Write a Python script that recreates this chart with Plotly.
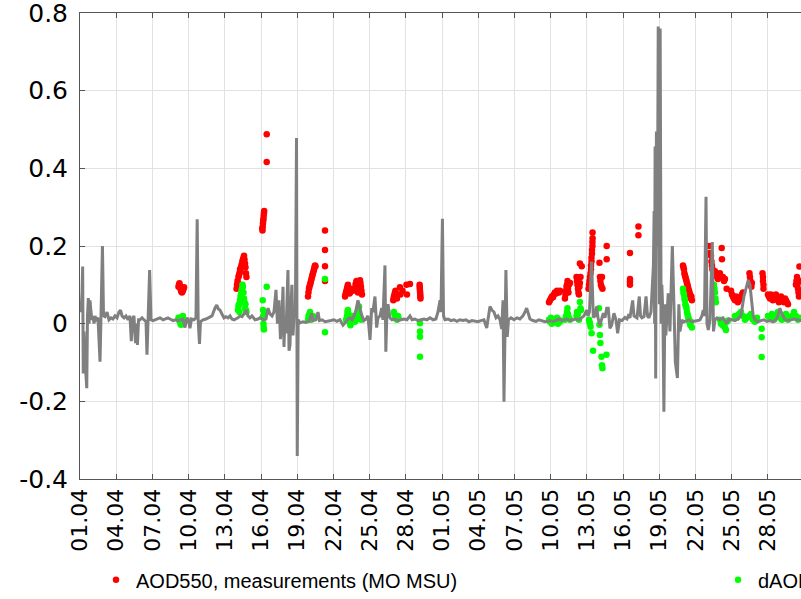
import pandas as pd
import plotly.graph_objects as go

# Period start; all times below are given in days since 01.04 00:00
START = pd.Timestamp("2021-04-01")

# Model dAOD550 (grey line)
grey_day = [
    0.00, 0.08, 0.17, 0.22, 0.27, 0.33, 0.41, 0.56, 0.62, 0.69, 0.75, 0.83, 0.91, 0.99,
    1.08, 1.16, 1.24, 1.33, 1.49, 1.66, 1.74, 1.86, 1.95, 2.07, 2.24, 2.40, 2.57, 2.73,
    2.90, 3.07, 3.23, 3.36, 3.48, 3.65, 3.81, 3.98, 4.14, 4.25, 4.35, 4.47, 4.60, 4.68,
    4.76, 4.85, 4.97, 5.14, 5.30, 5.47, 5.55, 5.63, 5.77, 5.88, 6.05, 6.21, 6.38, 6.63,
    6.88, 7.04, 7.29, 7.46, 7.71, 7.95, 8.12, 8.37, 8.53, 8.70, 8.82, 8.95, 9.11, 9.24,
    9.44, 9.61, 9.71, 9.79, 9.90, 9.98, 10.19, 10.44, 10.69, 10.94, 11.18, 11.33, 11.46,
    11.60, 11.76, 11.93, 12.10, 12.26, 12.43, 12.59, 12.76, 12.92, 13.09, 13.26, 13.42,
    13.59, 13.79, 13.92, 14.08, 14.25, 14.50, 14.75, 14.91, 15.16, 15.41, 15.58, 15.74,
    15.91, 16.07, 16.24, 16.36, 16.49, 16.61, 16.74, 16.82, 16.90, 16.98, 17.07, 17.15,
    17.23, 17.32, 17.40, 17.48, 17.56, 17.65, 17.73, 17.85, 17.94, 18.00, 18.08, 18.23,
    18.48, 18.72, 18.97, 19.20, 19.30, 19.55, 19.72, 19.84, 20.05, 20.30, 20.55, 20.80,
    21.04, 21.29, 21.54, 21.79, 22.04, 22.20, 22.37, 22.54, 22.70, 22.87, 23.03, 23.20,
    23.36, 23.53, 23.70, 23.86, 24.03, 24.17, 24.27, 24.44, 24.58, 24.69, 24.86, 25.00,
    25.10, 25.27, 25.34, 25.43, 25.52, 25.68, 25.85, 26.10, 26.35, 26.59, 26.84, 27.09,
    27.34, 27.51, 27.75, 28.00, 28.25, 28.50, 28.75, 29.00, 29.25, 29.49, 29.66, 29.83,
    29.91, 30.03, 30.12, 30.24, 30.49, 30.74, 30.99, 31.23, 31.48, 31.73, 31.98, 32.23,
    32.48, 32.73, 32.97, 33.22, 33.47, 33.70, 33.84, 33.97, 34.13, 34.30, 34.47, 34.63,
    34.80, 34.94, 35.05, 35.13, 35.29, 35.40, 35.50, 35.71, 35.96, 36.21, 36.45, 36.70,
    36.87, 37.01, 37.16, 37.28, 37.53, 37.78, 38.03, 38.28, 38.53, 38.77, 38.94, 39.19,
    39.44, 39.69, 39.93, 40.10, 40.35, 40.60, 40.85, 41.09, 41.34, 41.59, 41.76, 41.98,
    42.09, 42.21, 42.39, 42.53, 42.67, 42.81, 42.92, 43.08, 43.21, 43.36, 43.50, 43.64,
    43.77, 43.91, 44.05, 44.16, 44.24, 44.41, 44.55, 44.70, 44.91, 45.15, 45.32, 45.43,
    45.57, 45.79, 45.90, 46.15, 46.34, 46.44, 46.56, 46.73, 46.90, 47.02, 47.14, 47.31,
    47.43, 47.51, 47.57, 47.61, 47.65, 47.70, 47.76, 47.84, 47.91, 48.01, 48.07, 48.15,
    48.21, 48.30, 48.38, 48.46, 48.54, 48.74, 48.88, 49.08, 49.21, 49.33, 49.50, 49.62,
    49.71, 49.88, 49.98, 50.21, 50.46, 50.70, 50.95, 51.20, 51.37, 51.53, 51.64, 51.74,
    51.87, 51.95, 52.06, 52.20, 52.39, 52.49, 52.61, 52.78, 53.02, 53.27, 53.58, 53.77,
    54.02, 54.27, 54.51, 54.76, 55.01, 55.18, 55.37, 55.51, 55.63, 55.78, 55.92, 56.17,
    56.42, 56.67, 56.92, 57.17, 57.41, 57.66, 57.83, 57.99, 58.16, 58.41, 58.66, 58.91,
    59.16, 59.41, 59.74, 60.20,
]
grey_val = [
    0.048, 0.030, 0.080, 0.147, -0.128, -0.020, -0.090, -0.166, 0.020, 0.066, 0.000, 0.060, 0.030, 0.010,
    0.020, 0.000, 0.020, 0.010, 0.015, -0.098, 0.020, 0.200, 0.020, 0.018, 0.030, 0.010, 0.015, 0.012,
    0.020, 0.015, 0.030, 0.035, 0.020, 0.015, 0.020, 0.010, 0.020, -0.045, 0.010, 0.020, -0.050, 0.000,
    -0.055, 0.010, 0.010, 0.015, 0.010, 0.005, -0.080, 0.010, 0.138, 0.010, 0.008, 0.010, 0.012, 0.015,
    0.010, 0.012, 0.015, 0.012, 0.008, 0.010, 0.008, 0.010, 0.012, -0.010, 0.010, 0.015, -0.012, 0.012,
    0.010, 0.015, 0.269, 0.010, -0.052, 0.005, 0.010, 0.012, 0.015, 0.020, 0.040, 0.048, 0.038,
    0.035, 0.025, 0.015, 0.018, 0.015, 0.020, 0.012, 0.010, 0.012, 0.015, 0.020, 0.018,
    0.025, 0.035, 0.020, 0.015, 0.020, 0.010, 0.012, 0.015, 0.010, 0.012, 0.040, 0.025,
    0.020, 0.030, 0.087, 0.000, 0.060, -0.040, 0.020, 0.095, -0.060, 0.010, -0.025, 0.060,
    0.138, -0.070, -0.055, 0.050, 0.100, -0.030, 0.020, 0.040, 0.478, -0.341, 0.010, 0.002,
    0.005, 0.003, 0.006, 0.027, 0.008, 0.010, 0.030, 0.008, 0.010, 0.005, 0.006, 0.008,
    0.010, 0.006, 0.010, -0.004, 0.005, 0.012, 0.015, 0.010, 0.020, 0.035, 0.060, 0.040,
    0.020, 0.008, 0.012, 0.020, -0.042, 0.040, 0.030, 0.070, -0.010, 0.015, 0.020, 0.040,
    0.010, 0.150, -0.072, 0.030, 0.050, 0.015, 0.010, 0.012, 0.008, 0.010, 0.012, 0.010,
    0.020, 0.010, 0.012, 0.008, 0.010, 0.012, 0.010, 0.015, 0.010, 0.012, 0.030, 0.060,
    0.030, 0.270, 0.020, 0.010, 0.012, 0.008, 0.010, 0.006, 0.010, 0.008, 0.010, 0.005,
    0.008, 0.006, 0.005, 0.008, 0.010, -0.011, 0.020, 0.044, 0.035, 0.030, 0.015, 0.020,
    0.010, -0.014, 0.060, -0.201, 0.138, -0.034, 0.010, 0.015, 0.010, 0.015, 0.012, 0.020,
    0.030, 0.040, 0.025, 0.012, 0.008, 0.006, 0.010, 0.008, 0.005, 0.006, 0.008, 0.005,
    0.008, 0.012, 0.008, 0.010, 0.012, 0.008, 0.010, 0.012, 0.010, 0.015, 0.020, 0.035,
    0.020, 0.030, 0.160, 0.016, 0.020, 0.044, 0.015, -0.004, 0.010, 0.027, 0.015, 0.040,
    0.040, -0.012, -0.004, 0.010, 0.027, 0.010, -0.025, 0.010, 0.008, 0.016, 0.012, 0.020,
    0.015, 0.060, 0.020, 0.015, 0.070, 0.020, 0.015, 0.018, 0.070, 0.020, 0.015, 0.030,
    0.100, 0.150, 0.290, 0.000, 0.456, -0.141, 0.495, 0.200, 0.765, 0.050, 0.760, 0.000,
    0.100, 0.020, -0.227, 0.050, -0.030, 0.078, -0.020, 0.200, 0.050, -0.100, -0.140, 0.050,
    -0.020, 0.010, 0.004, 0.006, 0.010, 0.005, 0.006, 0.008, 0.010, 0.020, 0.035, 0.020,
    0.327, 0.000, -0.016, 0.010, 0.210, -0.020, 0.010, 0.015, 0.010, 0.015, 0.000, 0.012,
    0.010, 0.008, 0.012, 0.020, 0.070, 0.090, 0.112, 0.100, 0.070, 0.020, 0.010, 0.005,
    0.008, 0.010, 0.006, 0.008, 0.005, 0.010, 0.020, 0.040, 0.025, 0.010, 0.008, 0.010,
    0.012, 0.010, 0.008, 0.008,
]

# AOD550 measurements (red dots)
red_day = [
    8.16, 8.20, 8.24, 8.29, 8.33, 8.37, 8.41, 8.45, 8.53, 8.58, 8.62,
    12.97, 13.01, 13.05, 13.09, 13.13, 13.17, 13.21, 13.26, 13.30, 13.34, 13.38, 13.42,
    13.46, 13.50, 13.55, 13.59, 13.63, 13.67, 13.71, 13.75, 13.79,
    15.10, 15.12, 15.14, 15.16, 15.18, 15.20, 15.22, 15.24, 15.26, 15.47, 15.47,
    18.89, 18.93, 18.97, 19.01, 19.06, 19.10, 19.14, 19.18, 19.22, 19.26, 19.30, 19.35,
    19.39, 19.43, 19.47, 19.51, 20.30, 20.30, 20.30, 20.30,
    21.96, 22.00, 22.04, 22.08, 22.12, 22.16, 22.20, 22.25, 22.29, 22.33, 22.37, 22.41,
    22.45, 22.54, 22.62, 22.78, 22.83, 22.87, 22.91, 22.95, 22.99, 23.03, 23.07, 23.12,
    23.16, 23.20, 23.24, 23.28, 23.32, 23.36,
    25.96, 25.99, 26.01, 26.06, 26.10, 26.14, 26.18, 26.22, 26.26, 26.51, 26.55, 26.72,
    27.05, 27.09, 27.34, 28.14, 28.15, 28.16, 28.17, 28.18, 28.19, 28.20, 28.21,
    38.86, 38.94, 39.02, 39.10, 39.19, 39.27, 39.35, 39.44, 39.52, 39.60, 39.69, 39.77,
    40.18, 40.22, 40.27, 40.31, 40.35, 40.39, 40.43, 40.47, 40.51, 40.60,
    41.14, 41.18, 41.22, 41.26, 41.30, 41.34, 41.38, 41.42, 41.47, 41.57, 41.42,
    42.13, 42.17, 42.21, 42.25, 42.30, 42.34, 42.34, 42.38, 42.38, 42.42, 42.42, 42.46,
    42.46, 42.47, 42.47,
    43.04, 43.08, 43.12, 43.16, 43.21, 43.25, 43.29, 43.64, 43.64,
    45.57, 45.57, 45.57, 45.57, 46.27, 46.27,
    49.96, 50.00, 50.04, 50.08, 50.12, 50.16, 50.21, 50.25, 50.29, 50.33, 50.37, 50.41,
    50.46, 50.50, 50.54, 50.58, 50.62, 50.66, 50.70,
    52.11, 52.20, 52.28, 52.32, 52.36, 52.40, 52.44, 52.53, 52.61, 52.69, 52.78, 52.86,
    52.94, 53.02, 53.17, 53.19, 53.27, 53.36, 53.44, 53.58,
    53.94, 54.02, 54.10, 54.18, 54.27, 54.35, 54.43, 54.51, 54.60, 54.68, 54.76, 54.85, 54.93,
    55.47, 55.51, 55.55, 55.59, 55.63, 55.67,
    56.55, 56.59, 56.59, 56.63, 56.63,
    57.00, 57.08, 57.17, 57.25, 57.33, 57.41, 57.50, 57.58, 57.66, 57.75, 57.83, 57.91,
    57.99, 58.08, 58.16, 58.24, 58.33, 58.41, 58.49, 58.57, 58.66,
    59.32, 59.36, 59.41, 59.45, 59.49, 59.53, 59.57, 59.61, 59.65,
]
red_val = [
    0.095, 0.100, 0.104, 0.097, 0.090, 0.085, 0.082, 0.080, 0.085, 0.090, 0.094,
    0.090, 0.100, 0.110, 0.105, 0.120, 0.125, 0.130, 0.140, 0.135, 0.145, 0.150, 0.155,
    0.160, 0.165, 0.170, 0.175, 0.165, 0.155, 0.145, 0.130, 0.120,
    0.245, 0.240, 0.250, 0.258, 0.265, 0.270, 0.278, 0.285, 0.290, 0.416, 0.488,
    0.070, 0.080, 0.090, 0.095, 0.100, 0.105, 0.110, 0.115, 0.120, 0.125, 0.130, 0.135,
    0.140, 0.145, 0.150, 0.148, 0.240, 0.190, 0.148, 0.110,
    0.070, 0.075, 0.080, 0.085, 0.090, 0.095, 0.100, 0.092, 0.085, 0.078, 0.080, 0.085,
    0.090, 0.088, 0.085, 0.090, 0.100, 0.105, 0.110, 0.095, 0.085, 0.080, 0.090, 0.100,
    0.108, 0.112, 0.105, 0.095, 0.085, 0.075,
    0.060, 0.065, 0.070, 0.075, 0.080, 0.085, 0.078, 0.070, 0.065, 0.094, 0.075, 0.085,
    0.100, 0.075, 0.102, 0.100, 0.095, 0.090, 0.085, 0.080, 0.075, 0.070, 0.065,
    0.055, 0.060, 0.065, 0.070, 0.068, 0.075, 0.080, 0.078, 0.085, 0.083, 0.080, 0.085,
    0.065, 0.075, 0.085, 0.095, 0.100, 0.110, 0.090, 0.080, 0.100, 0.105,
    0.120, 0.110, 0.100, 0.090, 0.080, 0.075, 0.095, 0.105, 0.120, 0.148, 0.155,
    0.090, 0.100, 0.110, 0.120, 0.130, 0.140, 0.150, 0.160, 0.170, 0.180, 0.190, 0.200,
    0.210, 0.220, 0.235,
    0.157, 0.120, 0.110, 0.100, 0.095, 0.120, 0.090, 0.200, 0.166,
    0.182, 0.115, 0.108, 0.100, 0.250, 0.228,
    0.150, 0.145, 0.140, 0.130, 0.125, 0.120, 0.115, 0.110, 0.105, 0.100, 0.095, 0.090,
    0.085, 0.080, 0.075, 0.070, 0.065, 0.070, 0.060,
    0.200, 0.182, 0.175, 0.160, 0.150, 0.140, 0.138, 0.130, 0.135, 0.125, 0.120, 0.115,
    0.125, 0.130, 0.195, 0.166, 0.120, 0.110, 0.115, 0.090,
    0.085, 0.075, 0.070, 0.065, 0.060, 0.070, 0.065, 0.055, 0.060, 0.065, 0.070, 0.075, 0.080,
    0.130, 0.120, 0.110, 0.100, 0.095, 0.105,
    0.130, 0.120, 0.110, 0.100, 0.090,
    0.075, 0.070, 0.065, 0.075, 0.070, 0.060, 0.065, 0.070, 0.075, 0.065, 0.060, 0.055,
    0.060, 0.070, 0.065, 0.060, 0.055, 0.065, 0.060, 0.055, 0.050,
    0.100, 0.110, 0.120, 0.100, 0.090, 0.080, 0.070, 0.147, 0.110,
]

# dAOD550 at the measurement times (green dots)
green_day = [
    8.16, 8.20, 8.24, 8.29, 8.33, 8.37, 8.41, 8.45, 8.53, 8.62,
    13.09, 13.13, 13.17, 13.21, 13.26, 13.30, 13.34, 13.38, 13.42, 13.46, 13.50, 13.55,
    13.59, 13.63, 13.67, 13.71, 13.75, 13.79,
    15.14, 15.16, 15.18, 15.20, 15.22, 15.24, 15.26, 15.47,
    18.89, 18.93, 18.97, 19.01, 19.06, 19.10, 19.14, 19.22, 19.30, 20.30, 20.30,
    22.04, 22.12, 22.16, 22.20, 22.25, 22.29, 22.33, 22.37, 22.41, 22.45, 22.54, 22.62,
    22.78, 22.87, 22.95, 23.03, 23.07, 23.12, 23.20, 23.28,
    26.01, 26.06, 26.10, 26.18, 26.26, 26.35, 26.39, 28.17, 28.17, 28.17, 28.17,
    38.86, 38.94, 39.02, 39.10, 39.19, 39.27, 39.35, 39.44, 39.52, 39.60, 39.69, 39.77,
    40.18, 40.27, 40.35, 40.39, 40.43, 40.51, 40.60,
    41.14, 41.18, 41.26, 41.34, 41.42, 41.47, 41.51,
    42.17, 42.21, 42.25, 42.30, 42.39, 42.51,
    43.00, 43.04, 43.08, 43.12, 43.21, 43.25, 43.29, 43.62,
    49.96, 50.00, 50.04, 50.08, 50.12, 50.16, 50.21, 50.25, 50.29, 50.33, 50.37, 50.41,
    50.46, 50.50, 50.54, 50.58, 50.62, 50.70,
    52.53, 52.57, 52.61, 52.65, 52.69,
    53.02, 53.11, 53.19, 53.27, 53.36, 53.44, 53.52, 53.60, 53.69,
    54.27, 54.43, 54.60, 54.76, 54.93, 55.10, 55.26, 55.43, 55.59, 55.76, 55.92, 56.09,
    56.48, 56.48, 56.48,
    57.00, 57.17, 57.33, 57.50, 57.66, 57.83, 57.99, 58.16, 58.33, 58.49, 58.66, 58.82,
    58.99, 59.16, 59.32, 59.49, 59.65,
]
green_val = [
    0.015, 0.010, 0.008, 0.005, 0.000, -0.003, 0.012, 0.018, 0.020, 0.010,
    0.035, 0.045, 0.050, 0.030, 0.060, 0.070, 0.075, 0.085, 0.090, 0.100, 0.095, 0.080,
    0.065, 0.055, 0.040, 0.050, 0.035, 0.030,
    0.060, 0.035, 0.020, 0.000, -0.010, -0.015, 0.030, 0.095,
    0.010, 0.020, 0.015, 0.025, 0.030, 0.020, 0.010, 0.015, 0.020, 0.115, -0.022,
    0.010, 0.020, 0.030, 0.035, 0.025, 0.015, 0.005, 0.000, -0.004, 0.010, 0.020, 0.015,
    0.005, 0.010, 0.020, 0.030, 0.040, 0.044, 0.020, 0.010,
    0.030, 0.025, 0.020, 0.015, 0.010, 0.020, 0.015, 0.001, -0.020, -0.034, -0.085,
    0.010, 0.005, 0.015, 0.000, 0.010, 0.005, 0.012, 0.008, 0.015, 0.000, 0.010, 0.005,
    0.010, 0.020, 0.030, 0.040, 0.025, 0.015, 0.010,
    0.020, 0.030, 0.025, 0.010, 0.056, 0.040, 0.035,
    0.010, 0.005, 0.000, -0.008, -0.025, -0.070,
    0.040, -0.003, -0.029, -0.050, -0.085, -0.107, -0.115, -0.080,
    0.090, 0.080, 0.075, 0.065, 0.060, 0.050, 0.045, 0.040, 0.030, 0.025, 0.020, 0.015,
    0.010, 0.005, 0.000, -0.004, 0.005, -0.010,
    0.100, 0.090, 0.080, 0.065, 0.055,
    0.010, 0.000, 0.005, -0.005, 0.000, -0.010, -0.016, 0.005, 0.008,
    0.020, 0.015, 0.025, 0.030, 0.020, 0.010, 0.015, 0.020, 0.025, 0.010, 0.005, 0.015,
    -0.013, -0.035, -0.086,
    0.020, 0.015, 0.025, 0.010, 0.020, 0.030, 0.015, 0.010, 0.020, 0.025, 0.010, 0.015,
    0.020, 0.030, 0.020, 0.010, 0.015,
]

# Axis ticks
y_tickvals = [-0.4, -0.2, 0, 0.2, 0.4, 0.6, 0.8]
y_ticktext = ["-0.4", "-0.2", "0", "0.2", "0.4", "0.6", "0.8"]
Y_RANGE = [-0.4, 0.8]
X_END_DAY = 59.74


def to_time(days):
    return START + pd.to_timedelta(days, unit="D")


fig = go.Figure()

fig.add_trace(go.Scatter(
    x=to_time(red_day), y=red_val, mode="markers",
    name="AOD550, measurements (MO MSU)",
    marker=dict(color="#ff0000", size=6.5, line=dict(width=0)),
    legend="legend",
))
fig.add_trace(go.Scatter(
    x=to_time(green_day), y=green_val, mode="markers",
    name="dAOD550, model \u2212 measurements (MO MSU)",
    marker=dict(color="#00ff00", size=6.5, line=dict(width=0)),
    legend="legend2",
))
fig.add_trace(go.Scatter(
    x=to_time(grey_day), y=grey_val, mode="lines",
    name="dAOD550, model",
    line=dict(color="#808080", width=3),
    showlegend=False,
))

axis_col = "#555555"
grid_col = "#e2e2e2"
legend_font = dict(family="Liberation Sans", size=20, color="black")

fig.update_layout(
    width=801, height=599,
    margin=dict(l=80, r=0, t=13, b=120, autoexpand=False),
    paper_bgcolor="white", plot_bgcolor="white",
    font=dict(family="DejaVu Sans", color="black"),
    xaxis=dict(
        type="date",
        range=[START, to_time(X_END_DAY)],
        tick0=START, dtick=3 * 86400000, tickformat="%d.%m",
        tickangle=-90,
        tickfont=dict(family="DejaVu Sans", size=22, color="black"),
        ticks="inside", ticklen=5, tickcolor=axis_col,
        showline=True, linecolor=axis_col, linewidth=1, mirror="ticks",
        showgrid=True, gridcolor=grid_col, gridwidth=1,
        zeroline=False, ticklabeloverflow="allow",
    ),
    yaxis=dict(
        range=Y_RANGE,
        tickmode="array", tickvals=y_tickvals, ticktext=y_ticktext,
        tickfont=dict(family="DejaVu Sans", size=25, color="black"),
        ticks="inside", ticklen=5, tickcolor=axis_col,
        ticklabelstandoff=6, ticklabeloverflow="allow",
        showline=True, linecolor=axis_col, linewidth=1,
        showgrid=True, gridcolor=grid_col, gridwidth=1,
        zeroline=False,
    ),
    legend=dict(
        xref="container", yref="container", x=96 / 801, y=0.032,
        xanchor="left", yanchor="middle",
        font=legend_font,
        bgcolor="rgba(0,0,0,0)", borderwidth=0,
    ),
    legend2=dict(
        xref="container", yref="container", x=718 / 801, y=0.032,
        xanchor="left", yanchor="middle",
        font=legend_font,
        bgcolor="rgba(0,0,0,0)", borderwidth=0,
    ),
)

fig.write_html("out.html")
